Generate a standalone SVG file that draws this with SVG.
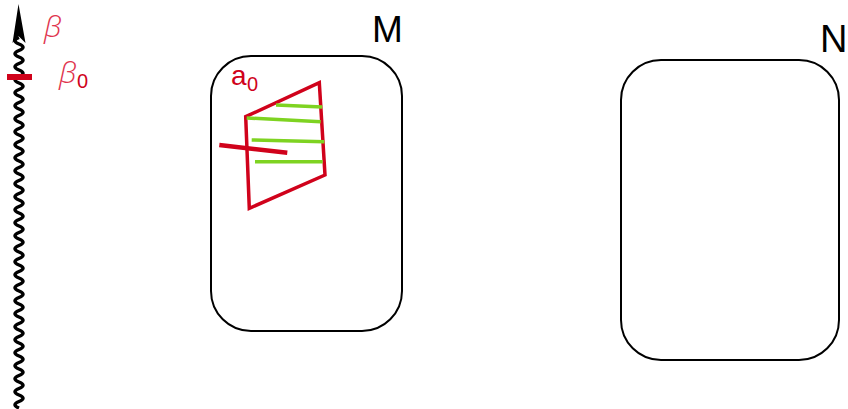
<svg xmlns="http://www.w3.org/2000/svg" width="848" height="409" viewBox="0 0 848 409">
<style>
.box{fill:none;stroke:#000;stroke-width:2}
.red{stroke:#d0021b;fill:none;stroke-linecap:butt}
.grn{stroke:#7ed321;stroke-width:3.5;fill:none}
.lbl{font-family:"Liberation Sans",Arial,sans-serif;fill:#000}
.rt{font-family:"Liberation Sans",Arial,sans-serif;fill:#d0021b}
.beta{font-family:"Open Sans","DejaVu Sans",sans-serif;font-style:italic;font-weight:300;fill:#e0344e}
</style>
<rect width="848" height="409" fill="#fff"/>
<g id="axis">
<path d="M19,408 q -8,-3.25 0,-6.5 t0,-6.5 t0,-6.5 t0,-6.5 t0,-6.5 t0,-6.5 t0,-6.5 t0,-6.5 t0,-6.5 t0,-6.5 t0,-6.5 t0,-6.5 t0,-6.5 t0,-6.5 t0,-6.5 t0,-6.5 t0,-6.5 t0,-6.5 t0,-6.5 t0,-6.5 t0,-6.5 t0,-6.5 t0,-6.5 t0,-6.5 t0,-6.5 t0,-6.5 t0,-6.5 t0,-6.5 t0,-6.5 t0,-6.5 t0,-6.5 t0,-6.5 t0,-6.5 t0,-6.5 t0,-6.5 t0,-6.5 t0,-6.5 t0,-6.5 t0,-6.5 t0,-6.5 t0,-6.5 t0,-6.5 t0,-6.5 t0,-6.5 t0,-6.5 t0,-6.5 t0,-6.5 t0,-6.5 t0,-6.5 t0,-6.5 t0,-6.5 t0,-6.5 t0,-6.5 t0,-6.5 t0,-6.5 t0,-6.5 t0,-6.5" fill="none" stroke="#000" stroke-width="3.5"/>
<polygon points="18.5,4 12.5,43 18.5,36 25.5,43" fill="#000"/>
<rect x="7" y="74" width="25" height="6" fill="#d0021b"/>
<text class="beta" x="44" y="37" font-size="30">β</text>
<text class="beta" x="59" y="83" font-size="30">β</text>
<text class="rt" x="77" y="88" font-size="20">0</text>
</g>
<g id="M">
<rect class="box" x="211" y="56" width="191" height="275" rx="40"/>
<text class="lbl" x="372" y="42" font-size="37">M</text>
</g>
<g id="N">
<rect class="box" x="621" y="60" width="218" height="300" rx="40"/>
<text class="lbl" x="820" y="52" font-size="38">N</text>
</g>
<g id="a0">
<polygon class="red" stroke-width="3.5" points="245.7,116.7 319.3,82.7 325,175 249.3,208.3"/>
<line class="grn" x1="276" y1="105" x2="322.3" y2="107"/>
<line class="grn" x1="246.7" y1="118" x2="320.7" y2="121.7"/>
<line class="grn" x1="251.7" y1="140" x2="324.3" y2="141.7"/>
<line class="grn" x1="255" y1="161.7" x2="322.7" y2="161.7"/>
<line class="red" stroke-width="4.5" x1="219.3" y1="145" x2="287.3" y2="152.7"/>
<text class="rt" x="231" y="85" font-size="28">a</text>
<text class="rt" x="247" y="91" font-size="20">0</text>
</g>
</svg>
